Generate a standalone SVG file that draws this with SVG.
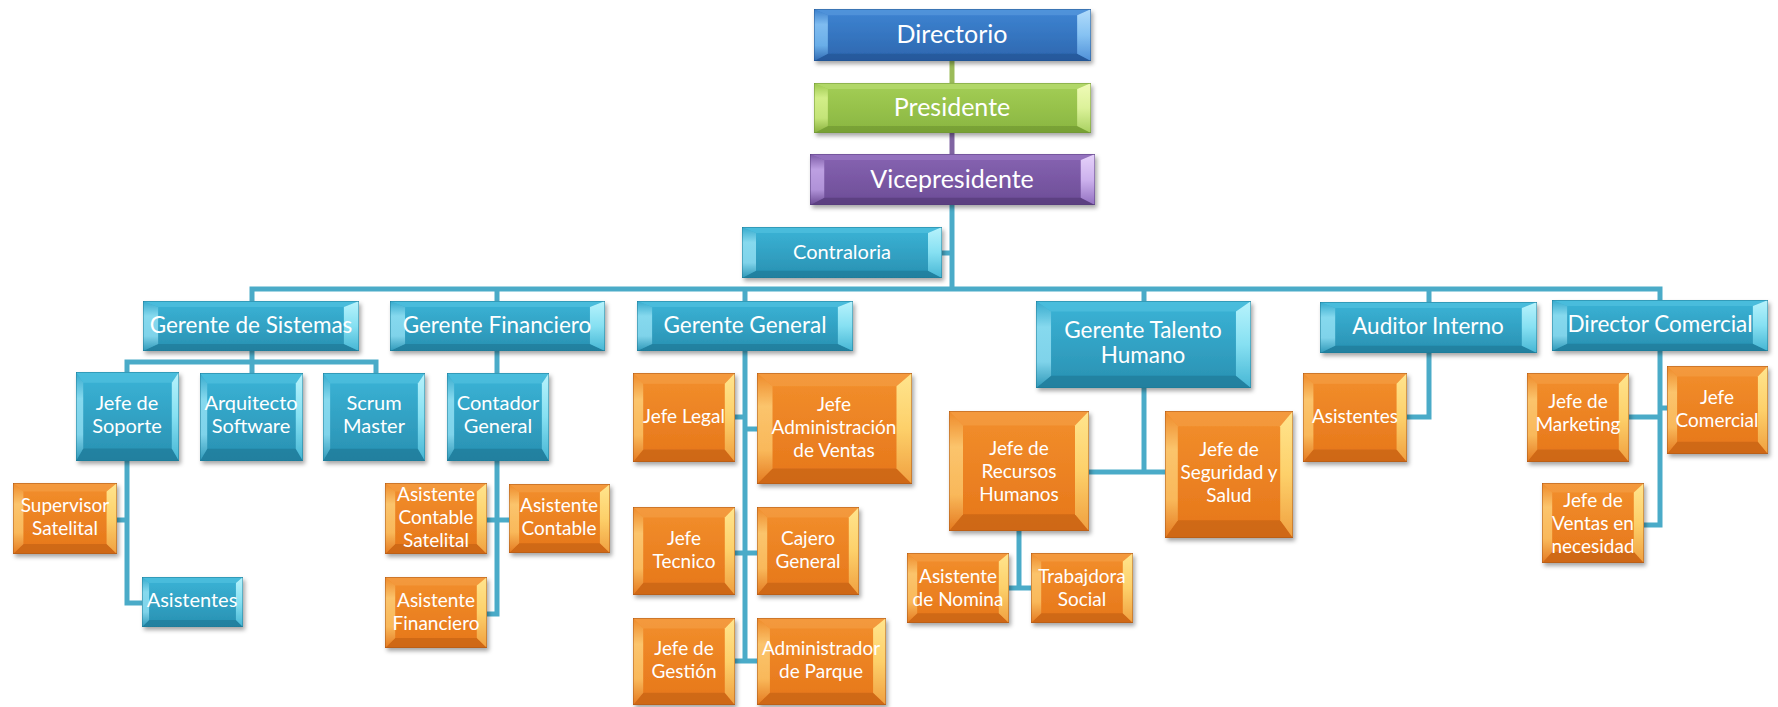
<svg xmlns="http://www.w3.org/2000/svg" xmlns:xlink="http://www.w3.org/1999/xlink" width="1778" height="707" viewBox="0 0 1778 707">
<defs>
<style>
.t{font-family:Lato,"Liberation Sans",sans-serif;fill:#fff;text-anchor:middle}
.f25{font-size:25px}.f21{font-size:22.5px}.f20{font-size:20px}.f19{font-size:19px}
.c{fill:none;stroke:#4aabc8;stroke-width:5;stroke-linejoin:miter;stroke-linecap:butt}
.n{filter:url(#sh)}
</style>
<filter id="sh" x="-10%" y="-10%" width="130%" height="140%"><feDropShadow dx="2" dy="3" stdDeviation="2" flood-color="#000" flood-opacity="0.35"/></filter>
<linearGradient id="gTB" x1="0" y1="0" x2="0" y2="1"><stop offset="0" stop-color="#3bb4d7"/><stop offset="1" stop-color="#2990b1"/></linearGradient>
<linearGradient id="gTL" x1="0" y1="0" x2="0" y2="1"><stop offset="0" stop-color="#36aacd"/><stop offset=".3" stop-color="#86d9ee"/><stop offset=".7" stop-color="#7fd3ea"/><stop offset="1" stop-color="#2f98b8"/></linearGradient>
<linearGradient id="gTR" x1="0" y1="0" x2="0" y2="1"><stop offset="0" stop-color="#b8f3fc"/><stop offset=".5" stop-color="#86e0f2"/><stop offset="1" stop-color="#46b6d4"/></linearGradient>
<linearGradient id="gOB" x1="0" y1="0" x2="0" y2="1"><stop offset="0" stop-color="#f28f2c"/><stop offset="1" stop-color="#e6761a"/></linearGradient>
<linearGradient id="gOL" x1="0" y1="0" x2="0" y2="1"><stop offset="0" stop-color="#ee8a2a"/><stop offset=".3" stop-color="#fbc46c"/><stop offset=".7" stop-color="#f9b85a"/><stop offset="1" stop-color="#e47a20"/></linearGradient>
<linearGradient id="gOR" x1="0" y1="0" x2="0" y2="1"><stop offset="0" stop-color="#ffe58e"/><stop offset=".5" stop-color="#fdd06a"/><stop offset="1" stop-color="#f0a040"/></linearGradient>
<linearGradient id="gBB" x1="0" y1="0" x2="0" y2="1"><stop offset="0" stop-color="#3e85d3"/><stop offset="1" stop-color="#2d66ae"/></linearGradient>
<linearGradient id="gBL" x1="0" y1="0" x2="0" y2="1"><stop offset="0" stop-color="#3a7fcc"/><stop offset=".3" stop-color="#7fbcf0"/><stop offset=".7" stop-color="#6aaee8"/><stop offset="1" stop-color="#2f6ab2"/></linearGradient>
<linearGradient id="gBR" x1="0" y1="0" x2="0" y2="1"><stop offset="0" stop-color="#b2dcfb"/><stop offset=".5" stop-color="#86c2f2"/><stop offset="1" stop-color="#4f90d8"/></linearGradient>
<linearGradient id="gGB" x1="0" y1="0" x2="0" y2="1"><stop offset="0" stop-color="#a4ce56"/><stop offset="1" stop-color="#89b540"/></linearGradient>
<linearGradient id="gGL" x1="0" y1="0" x2="0" y2="1"><stop offset="0" stop-color="#9cc84f"/><stop offset=".3" stop-color="#d2ee88"/><stop offset=".7" stop-color="#c4e478"/><stop offset="1" stop-color="#88b03e"/></linearGradient>
<linearGradient id="gGR" x1="0" y1="0" x2="0" y2="1"><stop offset="0" stop-color="#f0fbb8"/><stop offset=".5" stop-color="#dcf29a"/><stop offset="1" stop-color="#a8d060"/></linearGradient>
<linearGradient id="gPB" x1="0" y1="0" x2="0" y2="1"><stop offset="0" stop-color="#8764b2"/><stop offset="1" stop-color="#6c4c96"/></linearGradient>
<linearGradient id="gPL" x1="0" y1="0" x2="0" y2="1"><stop offset="0" stop-color="#7c5aa6"/><stop offset=".3" stop-color="#bda0e2"/><stop offset=".7" stop-color="#b092d8"/><stop offset="1" stop-color="#6a4a92"/></linearGradient>
<linearGradient id="gPR" x1="0" y1="0" x2="0" y2="1"><stop offset="0" stop-color="#e6d2fa"/><stop offset=".5" stop-color="#cdb2ee"/><stop offset="1" stop-color="#9270c0"/></linearGradient>
<symbol id="bvT" viewBox="0 0 100 100" preserveAspectRatio="none">
<rect width="100" height="100" fill="url(#gTB)"/>
<polygon points="0,0 100,0 93,12 7,12" fill="#55c4e2" opacity=".55"/>
<polygon points="0,100 100,100 93,86 7,86" fill="#1c7390" opacity=".55"/>
<polygon points="0,0 7,12 7,86 0,100" fill="url(#gTL)"/>
<polygon points="100,0 93,12 93,86 100,100" fill="url(#gTR)"/>
<rect width="100" height="100" fill="none" stroke="#1e7a96" stroke-width="1" vector-effect="non-scaling-stroke"/>
</symbol>
<symbol id="bvO" viewBox="0 0 100 100" preserveAspectRatio="none">
<rect width="100" height="100" fill="url(#gOB)"/>
<polygon points="0,0 100,0 90,12 10,12" fill="#f5a048" opacity=".6"/>
<polygon points="0,100 100,100 90,86 10,86" fill="#b85a14" opacity=".5"/>
<polygon points="0,0 10,12 10,86 0,100" fill="url(#gOL)"/>
<polygon points="100,0 90,12 90,86 100,100" fill="url(#gOR)"/>
<rect width="100" height="100" fill="none" stroke="#a8561a" stroke-width="1" vector-effect="non-scaling-stroke"/>
</symbol>
<symbol id="bvB" viewBox="0 0 100 100" preserveAspectRatio="none">
<rect width="100" height="100" fill="url(#gBB)"/>
<polygon points="0,0 100,0 95,12 5,12" fill="#5d9de0" opacity=".6"/>
<polygon points="0,100 100,100 95,86 5,86" fill="#1f4f8c" opacity=".55"/>
<polygon points="0,0 5,12 5,86 0,100" fill="url(#gBL)"/>
<polygon points="100,0 95,12 95,86 100,100" fill="url(#gBR)"/>
<rect width="100" height="100" fill="none" stroke="#24558f" stroke-width="1" vector-effect="non-scaling-stroke"/>
</symbol>
<symbol id="bvG" viewBox="0 0 100 100" preserveAspectRatio="none">
<rect width="100" height="100" fill="url(#gGB)"/>
<polygon points="0,0 100,0 95,12 5,12" fill="#bade74" opacity=".6"/>
<polygon points="0,100 100,100 95,86 5,86" fill="#6a8f2e" opacity=".55"/>
<polygon points="0,0 5,12 5,86 0,100" fill="url(#gGL)"/>
<polygon points="100,0 95,12 95,86 100,100" fill="url(#gGR)"/>
<rect width="100" height="100" fill="none" stroke="#6f9236" stroke-width="1" vector-effect="non-scaling-stroke"/>
</symbol>
<symbol id="bvP" viewBox="0 0 100 100" preserveAspectRatio="none">
<rect width="100" height="100" fill="url(#gPB)"/>
<polygon points="0,0 100,0 95,12 5,12" fill="#9c7cc6" opacity=".6"/>
<polygon points="0,100 100,100 95,86 5,86" fill="#4f3570" opacity=".55"/>
<polygon points="0,0 5,12 5,86 0,100" fill="url(#gPL)"/>
<polygon points="100,0 95,12 95,86 100,100" fill="url(#gPR)"/>
<rect width="100" height="100" fill="none" stroke="#563c7c" stroke-width="1" vector-effect="non-scaling-stroke"/>
</symbol>
</defs>
<rect width="1778" height="707" fill="#fff"/>

<g id="connectors">
<path d="M952 61V83" fill="none" stroke="#9bbb59" stroke-width="5"/>
<path d="M952 133V154" fill="none" stroke="#8064a2" stroke-width="5"/>
<path class="c" d="M952 205V289"/>
<path class="c" d="M942 253H952"/>
<path class="c" d="M252 301V289H1660V300"/>
<path class="c" d="M497 289V301M745 289V301M1144 289V301M1429 289V303"/>
<path class="c" d="M252 351V373"/>
<path class="c" d="M127 372V362H376V373"/>
<path class="c" d="M127 461V603H142"/>
<path class="c" d="M117 520H127"/>
<path class="c" d="M497 351V373"/>
<path class="c" d="M497 461V614H487"/>
<path class="c" d="M487 520H509"/>
<path class="c" d="M745 351V661"/>
<path class="c" d="M735 417H745M745 429H757M735 553H757M735 661H757"/>
<path class="c" d="M1144 388V472"/>
<path class="c" d="M1089 472H1165"/>
<path class="c" d="M1019 531V588"/>
<path class="c" d="M1009 588H1031"/>
<path class="c" d="M1429 353V417H1407"/>
<path class="c" d="M1660 351V525H1644"/>
<path class="c" d="M1629 417H1660M1660 408H1667"/>
</g>

<g id="n-directorio"><use class="n" href="#bvB" x="814" y="9" width="277" height="52"/><text class="t f25" x="952" y="43">Directorio</text></g>
<g id="n-presidente"><use class="n" href="#bvG" x="814" y="83" width="277" height="50"/><text class="t f25" x="952" y="116">Presidente</text></g>
<g id="n-vicepresidente"><use class="n" href="#bvP" x="810" y="154" width="285" height="51"/><text class="t f25" x="952" y="188">Vicepresidente</text></g>
<g id="n-contraloria"><use class="n" href="#bvT" x="742" y="227" width="200" height="51"/><text class="t f20" x="842" y="259">Contraloria</text></g>

<g id="n-gerente-sistemas"><use class="n" href="#bvT" x="143" y="301" width="216" height="50"/><text class="t f21" x="251" y="333">Gerente de Sistemas</text></g>
<g id="n-gerente-financiero"><use class="n" href="#bvT" x="390" y="301" width="215" height="50"/><text class="t f21" x="497" y="333">Gerente Financiero</text></g>
<g id="n-gerente-general"><use class="n" href="#bvT" x="637" y="301" width="216" height="50"/><text class="t f21" x="745" y="333">Gerente General</text></g>
<g id="n-gerente-talento"><use class="n" href="#bvT" x="1036" y="301" width="215" height="87"/><text class="t f21" x="1143" y="338">Gerente Talento</text><text class="t f21" x="1143" y="363">Humano</text></g>
<g id="n-auditor"><use class="n" href="#bvT" x="1320" y="302" width="217" height="51"/><text class="t f21" x="1428" y="334">Auditor Interno</text></g>
<g id="n-director-comercial"><use class="n" href="#bvT" x="1552" y="300" width="216" height="51"/><text class="t f21" x="1660" y="332">Director Comercial</text></g>

<g id="n-jefe-soporte"><use class="n" href="#bvT" x="76" y="372" width="103" height="89"/><text class="t f20" x="127" y="410">Jefe de</text><text class="t f20" x="127" y="433">Soporte</text></g>
<g id="n-arquitecto"><use class="n" href="#bvT" x="200" y="373" width="103" height="88"/><text class="t f20" x="251" y="410">Arquitecto</text><text class="t f20" x="251" y="433">Software</text></g>
<g id="n-scrum"><use class="n" href="#bvT" x="323" y="373" width="102" height="88"/><text class="t f20" x="374" y="410">Scrum</text><text class="t f20" x="374" y="433">Master</text></g>
<g id="n-supervisor"><use class="n" href="#bvO" x="13" y="483" width="104" height="71"/><text class="t f19" x="65" y="512">Supervisor</text><text class="t f19" x="65" y="535">Satelital</text></g>
<g id="n-asistentes-soporte"><use class="n" href="#bvT" x="142" y="577" width="101" height="50"/><text class="t f20" x="192" y="607">Asistentes</text></g>

<g id="n-contador"><use class="n" href="#bvT" x="447" y="373" width="102" height="88"/><text class="t f20" x="498" y="410">Contador</text><text class="t f20" x="498" y="433">General</text></g>
<g id="n-asist-contable-sat"><use class="n" href="#bvO" x="385" y="483" width="102" height="71"/><text class="t f19" x="436" y="501">Asistente</text><text class="t f19" x="436" y="524">Contable</text><text class="t f19" x="436" y="547">Satelital</text></g>
<g id="n-asist-contable"><use class="n" href="#bvO" x="509" y="484" width="101" height="69"/><text class="t f19" x="559" y="512">Asistente</text><text class="t f19" x="559" y="535">Contable</text></g>
<g id="n-asist-financiero"><use class="n" href="#bvO" x="385" y="577" width="102" height="71"/><text class="t f19" x="436" y="607">Asistente</text><text class="t f19" x="436" y="630">Financiero</text></g>

<g id="n-jefe-legal"><use class="n" href="#bvO" x="633" y="373" width="102" height="89"/><text class="t f19" x="684" y="423">Jefe Legal</text></g>
<g id="n-jefe-admin-ventas"><use class="n" href="#bvO" x="757" y="373" width="155" height="111"/><text class="t f19" x="834" y="411">Jefe</text><text class="t f19" x="834" y="434">Administración</text><text class="t f19" x="834" y="457">de Ventas</text></g>
<g id="n-jefe-tecnico"><use class="n" href="#bvO" x="633" y="507" width="102" height="88"/><text class="t f19" x="684" y="545">Jefe</text><text class="t f19" x="684" y="568">Tecnico</text></g>
<g id="n-cajero"><use class="n" href="#bvO" x="757" y="507" width="102" height="88"/><text class="t f19" x="808" y="545">Cajero</text><text class="t f19" x="808" y="568">General</text></g>
<g id="n-jefe-gestion"><use class="n" href="#bvO" x="633" y="618" width="102" height="87"/><text class="t f19" x="684" y="655">Jefe de</text><text class="t f19" x="684" y="678">Gestión</text></g>
<g id="n-admin-parque"><use class="n" href="#bvO" x="757" y="618" width="129" height="87"/><text class="t f19" x="821" y="655">Administrador</text><text class="t f19" x="821" y="678">de Parque</text></g>

<g id="n-jefe-rrhh"><use class="n" href="#bvO" x="949" y="411" width="140" height="120"/><text class="t f19" x="1019" y="455">Jefe de</text><text class="t f19" x="1019" y="478">Recursos</text><text class="t f19" x="1019" y="501">Humanos</text></g>
<g id="n-jefe-seguridad"><use class="n" href="#bvO" x="1165" y="411" width="128" height="127"/><text class="t f19" x="1229" y="456">Jefe de</text><text class="t f19" x="1229" y="479">Seguridad y</text><text class="t f19" x="1229" y="502">Salud</text></g>
<g id="n-asist-nomina"><use class="n" href="#bvO" x="907" y="553" width="102" height="70"/><text class="t f19" x="958" y="583">Asistente</text><text class="t f19" x="958" y="606">de Nomina</text></g>
<g id="n-trabajadora"><use class="n" href="#bvO" x="1031" y="553" width="102" height="70"/><text class="t f19" x="1082" y="583">Trabajdora</text><text class="t f19" x="1082" y="606">Social</text></g>

<g id="n-asistentes-auditor"><use class="n" href="#bvO" x="1303" y="373" width="104" height="89"/><text class="t f19" x="1355" y="423">Asistentes</text></g>

<g id="n-jefe-marketing"><use class="n" href="#bvO" x="1527" y="373" width="102" height="89"/><text class="t f19" x="1578" y="408">Jefe de</text><text class="t f19" x="1578" y="431">Marketing</text></g>
<g id="n-jefe-comercial"><use class="n" href="#bvO" x="1667" y="366" width="101" height="88"/><text class="t f19" x="1717" y="404">Jefe</text><text class="t f19" x="1717" y="427">Comercial</text></g>
<g id="n-jefe-ventas-necesidad"><use class="n" href="#bvO" x="1542" y="483" width="102" height="80"/><text class="t f19" x="1593" y="507">Jefe de</text><text class="t f19" x="1593" y="530">Ventas en</text><text class="t f19" x="1593" y="553">necesidad</text></g>
</svg>
